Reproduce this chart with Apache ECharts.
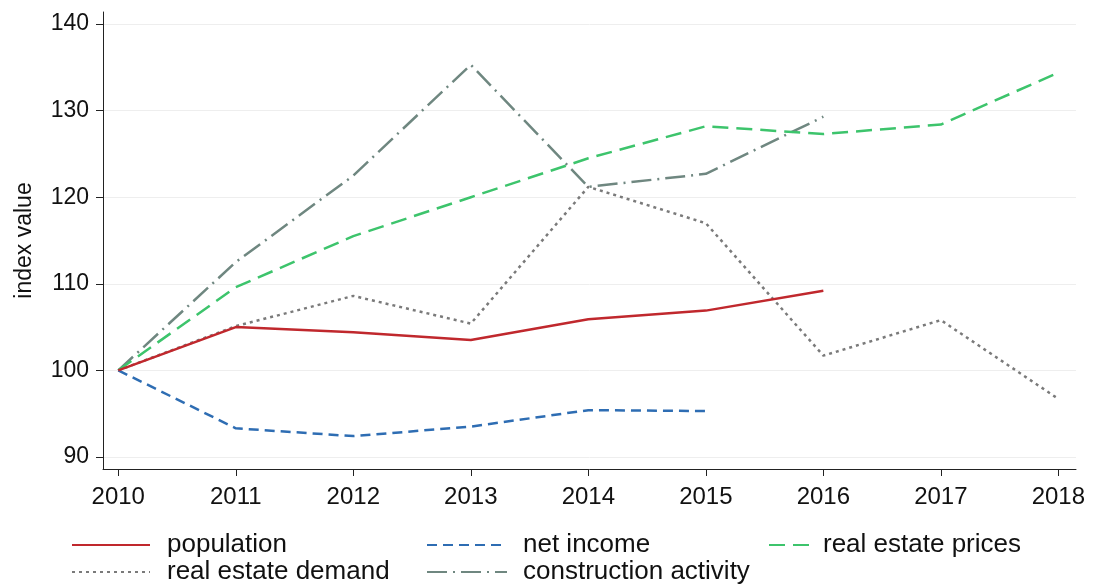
<!DOCTYPE html>
<html>
<head>
<meta charset="utf-8">
<script src="https://cdn.jsdelivr.net/npm/echarts@6/dist/echarts.min.js"></script>
<style>html,body{margin:0;padding:0;background:#fff;}#c{width:1094px;height:586px;}</style>
</head>
<body>
<div id="c"></div>
<script>
const years = [2010, 2011, 2012, 2013, 2014, 2015, 2016, 2017, 2018];
const yTicks = [90, 100, 110, 120, 130, 140];
const population = [100, 105.0, 104.4, 103.5, 105.9, 106.9, 109.2];
const netIncome = [100, 93.3, 92.4, 93.5, 95.4, 95.3];
const realEstatePrices = [100, 109.6, 115.5, 120.0, 124.5, 128.2, 127.3, 128.4, 134.4];
const realEstateDemand = [100, 105.1, 108.6, 105.4, 121.2, 117.0, 101.7, 105.8, 96.7];
const constructionActivity = [100, 112.5, 122.5, 135.3, 121.2, 122.7, 129.3];

function pairs(vals) { return vals.map((v, i) => [years[i], v]); }

const FONT = '"Liberation Sans", Arial, sans-serif';
const chart = echarts.init(document.getElementById('c'), null, {renderer: 'canvas'});

function mkSeries(name, vals, color, type, z) {
  return {
    name, type: 'line', data: pairs(vals), symbol: 'none', showSymbol: false,
    lineStyle: {color, width: 2.5, type, cap: 'butt'}, itemStyle: {color},
    z: z, animation: false
  };
}

function mkLegend(name, left, top, w, pad) {
  return {
    data: [name], left, top, orient: 'horizontal',
    itemWidth: w, itemHeight: 14, itemGap: 0, padding: 0,
    itemStyle: {opacity: 0},
    textStyle: {fontFamily: FONT, fontSize: 26, color: '#111', padding: [0, 0, 0, pad]},
    selectedMode: false
  };
}

chart.setOption({
  animation: false,
  backgroundColor: '#fff',
  grid: {left: 103, right: 18, top: 12, bottom: 117, containLabel: false, outerBoundsMode: 'none'},
  xAxis: {
    type: 'value', min: 2009.87, max: 2018.15,
    axisLine: {show: true, lineStyle: {color: '#222', width: 1}},
    axisTick: {show: true, length: 7, customValues: years, lineStyle: {color: '#222'}},
    axisLabel: {customValues: years, fontFamily: FONT, fontSize: 24, color: '#111', margin: 16,
      formatter: v => String(Math.round(v))},
    splitLine: {show: false}
  },
  yAxis: {
    type: 'value', min: 88.6, max: 141.4,
    name: 'index value', nameLocation: 'middle', nameGap: 67,
    nameTextStyle: {fontFamily: FONT, fontSize: 23, color: '#111'},
    axisLine: {show: true, lineStyle: {color: '#222', width: 1}},
    axisTick: {show: true, length: 7, customValues: yTicks, lineStyle: {color: '#222'}},
    axisLabel: {customValues: yTicks, fontFamily: FONT, fontSize: 23, color: '#111', margin: 14,
      formatter: v => String(Math.round(v))},
    splitLine: {show: true, lineStyle: {color: '#eeeeee', width: 1}}
  },
  legend: [
    mkLegend('population', 71, 532, 78, 12),
    mkLegend('net income', 426, 532, 80, 11),
    mkLegend('real estate prices', 768, 532, 42, 7),
    mkLegend('real estate demand', 71, 559, 78, 12),
    mkLegend('construction activity', 426, 559, 80, 11)
  ],
  series: [
    mkSeries('real estate demand', realEstateDemand, '#7a7a7a', [3, 4], 2),
    mkSeries('construction activity', constructionActivity, '#6f8780', [20, 6, 2, 6], 3),
    mkSeries('real estate prices', realEstatePrices, '#3dc46c', [16, 8], 4),
    mkSeries('net income', netIncome, '#2e6db3', [10, 6], 5),
    mkSeries('population', population, '#c0282d', 'solid', 6)
  ]
});
</script>
</body>
</html>
